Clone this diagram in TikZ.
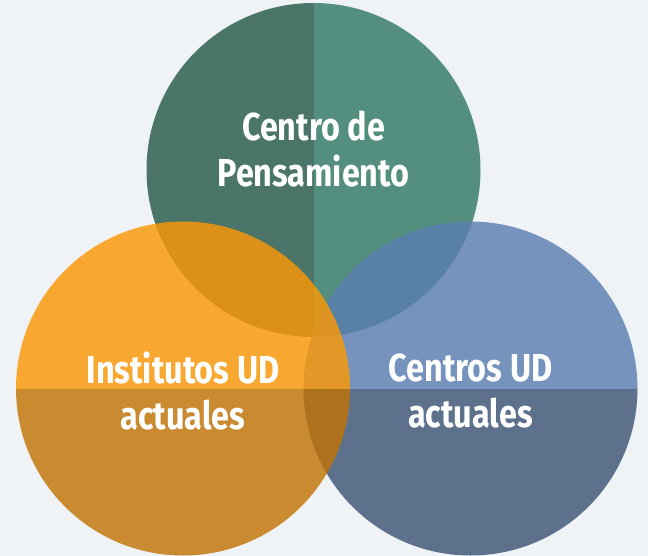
\documentclass[tikz,border=0pt]{standalone}
\usepackage{fontspec}
\newfontfamily\lblfont{Fira Sans}[FakeStretch=0.83]
\definecolor{bgc}{RGB}{239,243,246}
\definecolor{gDark}{RGB}{75,117,105}
\definecolor{gLight}{RGB}{83,142,126}
\definecolor{oTop}{RGB}{251,152,5}
\definecolor{oBot}{RGB}{193,115,5}
\definecolor{bTop}{RGB}{91,126,176}
\definecolor{bBot}{RGB}{62,85,118}
\begin{document}
\begin{tikzpicture}[x=1pt,y=-1pt,
  lbl/.style={text=white,inner sep=0pt,align=center,
    font=\lblfont\bfseries\fontsize{39}{46}\selectfont},
  half/.style={fill opacity=0.82}]
\useasboundingbox (0,0) rectangle (648,556);
\fill[bgc] (0,0) rectangle (648,556);
\def\R{167}
\coordinate (ct) at (313.5,170);
\coordinate (cl) at (183,388.5);
\coordinate (cr) at (470.5,388.5);
% top circle
\begin{scope}
  \clip (ct) circle[radius=\R];
  \fill[gDark] (140,0) rectangle (313.5,340);
  \fill[gLight] (313.5,0) rectangle (490,340);
\end{scope}
% right circle
\begin{scope}
  \clip (cr) circle[radius=\R];
  \fill[bTop,half] (300,215) rectangle (640,388.5);
  \fill[bBot,half] (300,388.5) rectangle (640,560);
\end{scope}
% left circle
\begin{scope}
  \clip (cl) circle[radius=\R];
  \fill[oTop,half] (10,215) rectangle (355,388.5);
  \fill[oBot,half] (10,388.5) rectangle (355,560);
\end{scope}
\node[lbl] (tcentro) at (313.5,149) {Centro de\\Pensamiento};
\node[lbl] (tinst) at (183,391) {Institutos UD\\actuales};
\node[lbl] (tcentros) at (470.5,391) {Centros UD\\actuales};
\end{tikzpicture}
\end{document}
